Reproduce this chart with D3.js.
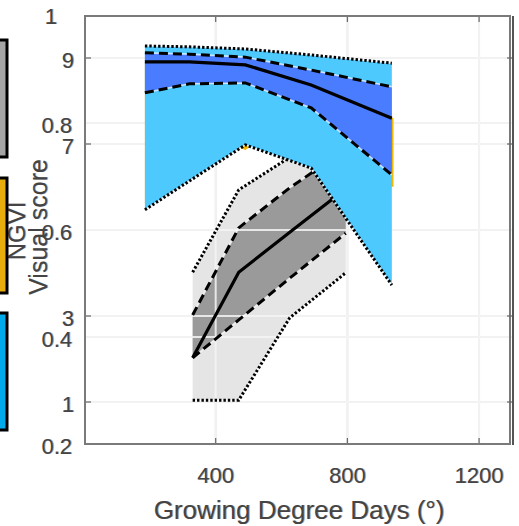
<!DOCTYPE html>
<html>
<head>
<meta charset="utf-8">
<script src="https://cdn.jsdelivr.net/npm/d3@7"></script>
<style>
  body { margin: 0; background: #fff; }
  svg { display: block; font-family: "Liberation Sans", Arial, sans-serif; }
</style>
</head>
<body>
<div id="chart"></div>
<script>
// growing degree days of each sampling (x)
const grayGdd = [330, 470, 625, 795];
const blueGdd = [185, 320, 490, 690, 935];
const yellowGdd = [185, 320, 470, 490, 510, 690, 940];

// gray band (NGVI)
const grayMin = [0.282, 0.282, 0.436, 0.520];
const grayQ1 = [0.361, 0.432, 0.510, 0.594];
const grayMed = [0.361, 0.521, 0.596, 0.677];
const grayQ3 = [0.441, 0.604, 0.679, 0.75];
const grayMax = [0.521, 0.675, 0.736, 0.77];

// blue band (visual score)
const blueMin = [5.47, 6.14, 6.98, 6.44, 3.72];
const blueQ1 = [8.19, 8.40, 8.42, 7.84, 6.28];
const blueMed = [8.91, 8.91, 8.84, 8.37, 7.60];
const blueQ3 = [9.12, 9.09, 9.02, 8.72, 8.33];
const blueMax = [9.28, 9.26, 9.21, 9.07, 8.88];

// yellow band, mostly hidden behind the blue one
const yellowLow = [5.6, 6.2, 6.92, 6.86, 6.96, 6.5, 6.0];
const yellowHigh = [8.9, 8.9, 8.85, 8.84, 8.8, 8.37, 7.6];

const xTicks = [400, 800, 1200];
const ngviTicks = [0.2, 0.4, 0.6, 0.8, 1];
const scoreTicks = [1, 3, 7, 9];
const legendColors = ['#a6a6a6', '#e8ad0c', '#00aaeb'];

const W = 519, H = 526;
const svg = d3.select('#chart').append('svg').attr('width', W).attr('height', H);

const x = d3.scaleLinear().domain([0, 1300]).range([84, 512]);
const yN = d3.scaleLinear().domain([0.2, 1]).range([444, 16]);
const yV = d3.scaleLinear().domain([0, 10]).range([445, 15]);

const zip = (xs, lo, hi) => xs.map((g, i) => ({ g, lo: lo[i], hi: hi[i] }));

function band(xs, lo, hi, ys, fill) {
  const area = d3.area().x(d => x(d.g)).y0(d => ys(d.lo)).y1(d => ys(d.hi));
  svg.append('path').datum(zip(xs, lo, hi)).attr('d', area).attr('fill', fill);
}

function edge(xs, vals, ys, style) {
  const line = d3.line().x((d, i) => x(xs[i])).y(d => ys(d));
  if (style !== 'solid') {
    svg.append('path').attr('d', line(vals)).attr('fill', 'none')
      .attr('stroke', '#fff').attr('stroke-opacity', 0.7).attr('stroke-width', 1.6);
  }
  svg.append('path').attr('d', line(vals)).attr('fill', 'none')
    .attr('stroke', '#000')
    .attr('stroke-width', style === 'solid' ? 3.2 : 3)
    .attr('stroke-dasharray', style === 'dash' ? '9,5' : style === 'dot' ? '2.4,2' : null);
}

function grid(color, opacity) {
  const g = svg.append('g').attr('stroke', color).attr('stroke-opacity', opacity).attr('stroke-width', 2);
  xTicks.forEach(t => g.append('line').attr('x1', x(t)).attr('x2', x(t)).attr('y1', 16).attr('y2', 444));
  ngviTicks.slice(1, -1).forEach(t => g.append('line').attr('x1', 84).attr('x2', 512).attr('y1', yN(t)).attr('y2', yN(t)));
  scoreTicks.forEach(t => g.append('line').attr('x1', 84).attr('x2', 512).attr('y1', yV(t)).attr('y2', yV(t)));
}

grid('#e3e3e3', 1);

// gray (NGVI) bands
band(grayGdd, grayMin, grayMax, yN, '#e5e5e5');
band(grayGdd, grayQ1, grayQ3, yN, '#9a9a9a');
grid('#f4f4f4', 0.85);
edge(grayGdd, grayMin, yN, 'dot');
edge(grayGdd, grayMax, yN, 'dot');
edge(grayGdd, grayQ1, yN, 'dash');
edge(grayGdd, grayQ3, yN, 'dash');
edge(grayGdd, grayMed, yN, 'solid');

// yellow + blue (visual score) bands
band(yellowGdd, yellowLow, yellowHigh, yV, '#f2b705');
band(blueGdd, blueMin, blueMax, yV, '#4dc9fd');
band(blueGdd, blueQ1, blueQ3, yV, '#4a7cff');
edge(blueGdd, blueMin, yV, 'dot');
edge(blueGdd, blueMax, yV, 'dot');
edge(blueGdd, blueQ1, yV, 'dash');
edge(blueGdd, blueQ3, yV, 'dash');
edge(blueGdd, blueMed, yV, 'solid');

// axes box (two overlaid axes, slightly off)
svg.append('rect').attr('x', 85).attr('y', 16).attr('width', 425).attr('height', 428)
  .attr('fill', 'none').attr('stroke', '#7a7a7a').attr('stroke-width', 2);
svg.append('line').attr('x1', 513).attr('x2', 513).attr('y1', 16).attr('y2', 445)
  .attr('stroke', '#555').attr('stroke-width', 2);

const tk = svg.append('g').attr('stroke', '#666').attr('stroke-width', 1.2);
scoreTicks.forEach(t => {
  tk.append('line').attr('x1', 86).attr('x2', 91).attr('y1', yV(t)).attr('y2', yV(t));
  tk.append('line').attr('x1', 507).attr('x2', 512).attr('y1', yV(t)).attr('y2', yV(t));
});
xTicks.forEach(t => {
  tk.append('line').attr('x1', x(t)).attr('x2', x(t)).attr('y1', 443).attr('y2', 438);
  tk.append('line').attr('x1', x(t)).attr('x2', x(t)).attr('y1', 17).attr('y2', 22);
});

// text drawn twice to get the ghosted look of the original
function label(txt, px, py, size, anchor, rotate) {
  [[1, 0.45], [0, 1]].forEach(([dx, op]) => {
    const t = svg.append('text').text(txt)
      .attr('font-size', size).attr('fill', '#444').attr('fill-opacity', op)
      .attr('text-anchor', anchor).attr('dominant-baseline', 'central');
    if (rotate) t.attr('transform', `translate(${px + dx},${py}) rotate(-90)`);
    else t.attr('x', px + dx).attr('y', py);
  });
}

ngviTicks.forEach(t => {
  if (t === 1) label('1', 57, yN(t), 22, 'end');
  else label(String(t), 72, yN(t) + 2, 22, 'end');
});
scoreTicks.forEach(t => label(String(t), 74, yV(t) + 2, 22, 'end'));
xTicks.forEach(t => label(String(t), x(t), 475, 22, 'middle'));

label('Growing Degree Days (°)', 299, 510, 26, 'middle');
label('Visual score', 38, 227, 25, 'middle', true);
label('NGVI', 16, 231, 24, 'middle', true);

// legend swatches, cut off at the left edge
const boxes = [[40, 157], [178, 293], [313, 430]];
boxes.forEach(([y0, y1], i) => {
  svg.append('rect').attr('x', -10).attr('y', y0).attr('width', 17).attr('height', y1 - y0)
    .attr('fill', legendColors[i]).attr('stroke', '#000').attr('stroke-width', 3);
});
</script>
</body>
</html>
